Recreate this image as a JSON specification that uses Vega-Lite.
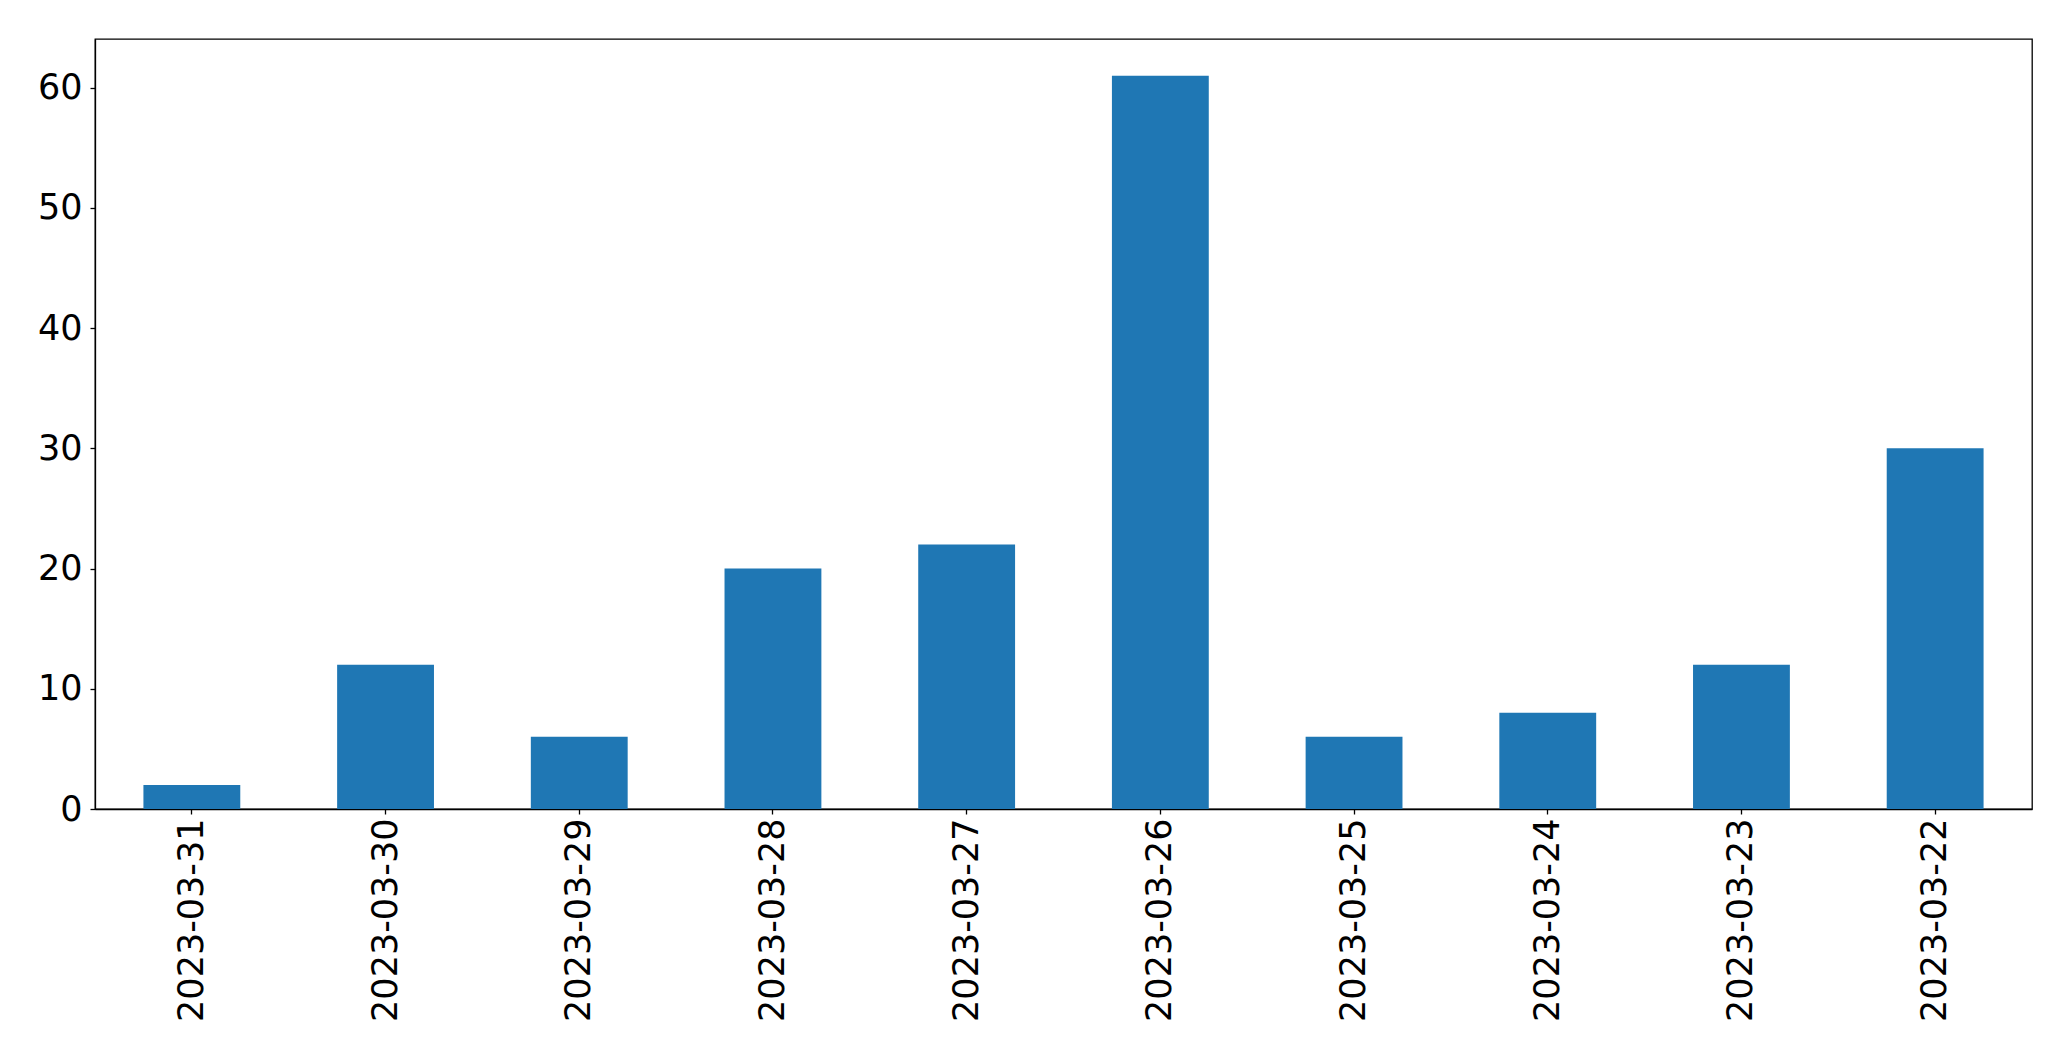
{
  "$schema": "https://vega.github.io/schema/vega-lite/v6.json",
  "width": 1937,
  "height": 770,
  "autosize": {"type": "none"},
  "padding": {"left": 95, "top": 39, "right": 39, "bottom": 252},
  "background": "white",
  "config": {
    "view": {"stroke": "black", "strokeWidth": 1.3},
    "axis": {
      "labelFont": "DejaVu Sans",
      "labelFontSize": 35,
      "labelColor": "black",
      "labelLimit": 0,
      "domainColor": "black",
      "domainWidth": 1.3,
      "tickColor": "black",
      "tickWidth": 1.3,
      "tickSize": 5,
      "grid": false,
      "title": null
    }
  },
  "data": {
    "values": [
      {"date": "2023-03-31", "count": 2},
      {"date": "2023-03-30", "count": 12},
      {"date": "2023-03-29", "count": 6},
      {"date": "2023-03-28", "count": 20},
      {"date": "2023-03-27", "count": 22},
      {"date": "2023-03-26", "count": 61},
      {"date": "2023-03-25", "count": 6},
      {"date": "2023-03-24", "count": 8},
      {"date": "2023-03-23", "count": 12},
      {"date": "2023-03-22", "count": 30}
    ]
  },
  "mark": {"type": "bar", "color": "#1f77b4"},
  "encoding": {
    "x": {
      "field": "date",
      "type": "nominal",
      "sort": null,
      "scale": {"paddingInner": 0.5, "paddingOuter": 0.25},
      "axis": {"labelAngle": -90, "labelPadding": 4, "title": null}
    },
    "y": {
      "field": "count",
      "type": "quantitative",
      "scale": {"domain": [0, 64.05], "nice": false, "zero": true},
      "axis": {"values": [0, 10, 20, 30, 40, 50, 60], "labelPadding": 8, "title": null}
    }
  }
}
